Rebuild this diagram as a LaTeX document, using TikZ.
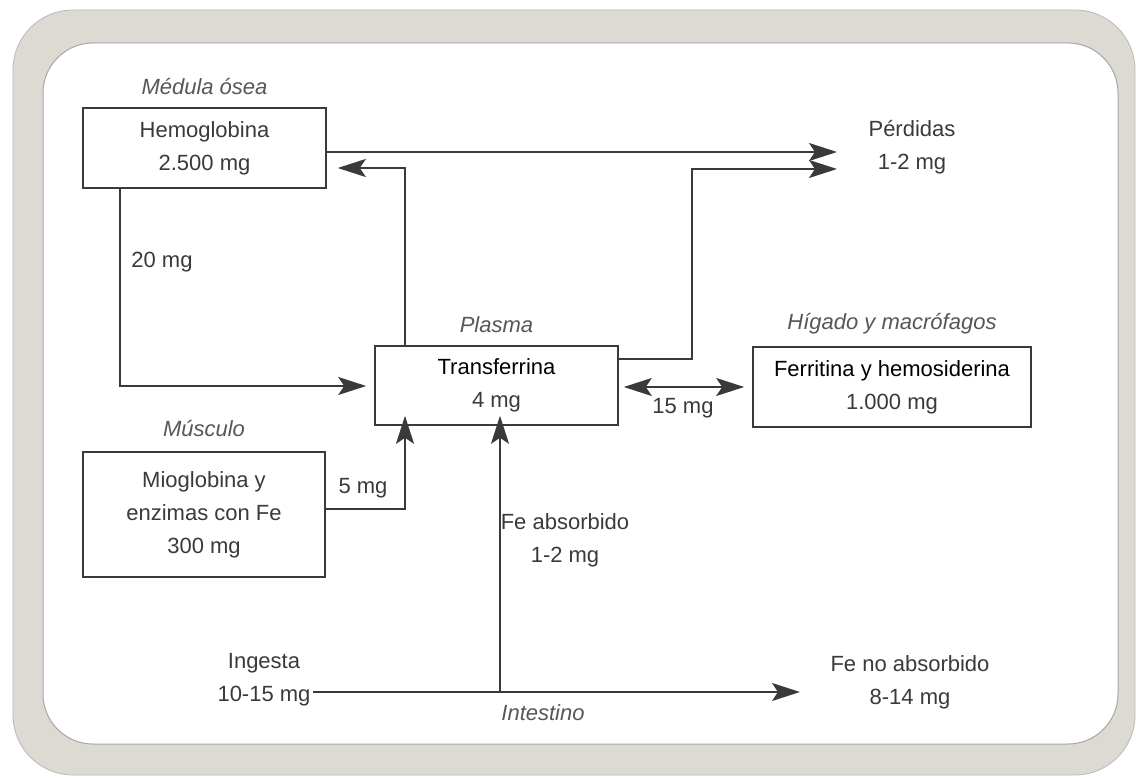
\documentclass[tikz,border=0pt]{standalone}
\usepackage{fontspec}
\setmainfont{Liberation Sans}
\usetikzlibrary{arrows.meta,positioning}
\definecolor{ink}{HTML}{3A3A3A}
\definecolor{framegray}{HTML}{DCDAD3}

\begin{document}
\begin{tikzpicture}[x=1pt,y=-1pt,
  block/.style={rectangle, draw=ink, line width=1.6pt, text=ink, align=center, minimum width=243pt, minimum height=80pt, font=\fontsize{22}{33}\selectfont},
  tag/.style={text=ink!85, font=\fontsize{22}{26}\selectfont\itshape, inner sep=0pt},
  qty/.style={text=ink, align=center, font=\fontsize{22}{33}\selectfont, inner sep=0pt},
  tip/.tip={Stealth[length=28pt,width=18pt,inset=6pt]},
  line/.style={draw=ink, line width=1.8pt, -tip}
]
    \useasboundingbox (0,0) rectangle (1136,778);
    % frame
    \fill[white] (0,0) rectangle (1136,778);
    \draw[gray!55, line width=0.8pt, fill=framegray, rounded corners=60pt] (13,10) rectangle (1135,775);
    \draw[gray!70, line width=1pt, fill=white, rounded corners=50pt] (43,43) rectangle (1118,744);

    \node [block] (hemo) at (204.5,148) {Hemoglobina\\2.500 mg};
    \node [block, minimum height=79pt] (transf) at (496.5,385.5) {\color{black}Transferrina\\4 mg};
    \node [block, minimum width=278pt] (ferr) at (892,387) {\color{black}Ferritina y hemosiderina\\1.000 mg};
    \node [block, minimum width=242pt, minimum height=125pt] (mio) at (204,514.5) {Mioglobina y\\enzimas con Fe\\300 mg};

    \node [tag, above=12pt of hemo] (medula) {Médula ósea};
    \node [tag, above=12pt of transf] (plasma) {Plasma};
    \node [tag, above=12pt of ferr] (higado) {Hígado y macrófagos};
    \node [tag, above=14pt of mio] (musculo) {Músculo};

    \node [qty] (perd) at (912,147) {Pérdidas\\1-2 mg};
    \node [qty] (ingesta) at (264,680) {Ingesta\\10-15 mg};
    \node [qty] (noabs) at (910,682) {Fe no absorbido\\8-14 mg};
    \node [qty] (abs) at (565,540) {Fe absorbido\\1-2 mg};
    \node [tag] (intestino) at (543,713) {Intestino};
    \node [qty] (q20) at (162,262) {20 mg};
    \node [qty] (q5) at (363,488) {5 mg};
    \node [qty] (q15) at (683,408) {15 mg};

    \coordinate (p1) at (837,152);
    \coordinate (p2) at (837,169);
    \coordinate (ing) at (313,692);
    \coordinate (out) at (800,692);
    \coordinate (gut) at (500,692);

    \path [line] (hemo.east |- p1) -- (p1);
    \path [line] (transf.north -| 405,0) |- ([xshift=11pt]hemo.east |- 0,168);
    \path [line] (transf.east |- 0,359) -| (692,169) -- (p2);
    \path [line] (hemo.south -| 120,0) |- ([xshift=-8pt]transf.west |- 0,386);
    \path [line] (mio.east |- 0,509) -| ([yshift=10pt]transf.south -| 405,0);
    \path [line] (ing) -- (out);
    \path [line] (gut) -- ([yshift=10pt]transf.south -| gut);
    \path [line, tip-tip] ([xshift=5pt]transf.east |- 0,387) -- ([xshift=-8pt]ferr.west);
\end{tikzpicture}
\end{document}
